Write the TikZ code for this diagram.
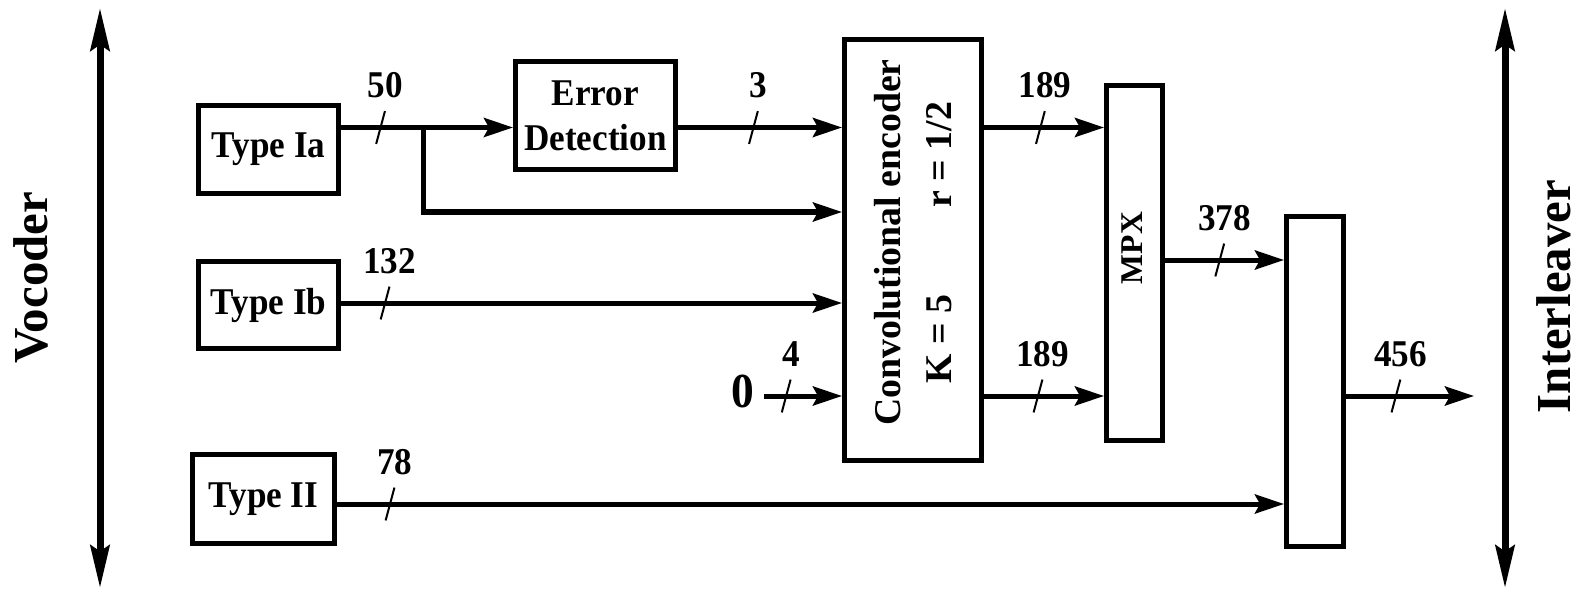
\documentclass[tikz,border=0pt]{standalone}
\usepackage{fontspec}
\setmainfont{Liberation Serif}[FakeStretch=0.93]
\newfontfamily\tallfont{Liberation Serif}
\usetikzlibrary{positioning,arrows.meta}

\begin{document}
\begin{tikzpicture}[
  block/.style={draw,line width=0.1cm,minimum width=2.8cm,minimum height=1.76cm,align=center,font=\fontsize{21.5}{25.5}\selectfont\bfseries},
  bar/.style={draw,line width=0.1cm,inner sep=0pt},
  flow/.style={line width=0.1cm,-{Stealth[length=0.58cm,width=0.38cm,inset=0.1cm]}},
  bigflow/.style={line width=0.14cm,{Stealth[length=0.85cm,width=0.38cm,inset=0.12cm]}-{Stealth[length=0.85cm,width=0.38cm,inset=0.12cm]}},
  busmark/.style={draw,line width=0.04cm,minimum width=0pt,minimum height=0.68cm,inner sep=0pt,rotate=-15},
  num/.style={inner sep=1pt,font=\fontsize{21.5}{25.5}\selectfont\bfseries},
  side/.style={rotate=90,inner sep=0pt,font=\tallfont\fontsize{27.8}{32}\selectfont\bfseries},
  upright/.style={rotate=90,inner sep=0pt,align=center,font=\tallfont\fontsize{21.5}{29}\selectfont\bfseries}
]
  \useasboundingbox (0,0) rectangle (31.62,11.8);
  \coordinate (r1) at (0,9.25);
  \coordinate (r2) at (0,7.56);
  \coordinate (r3) at (0,5.74);
  \coordinate (r4) at (0,3.88);
  \coordinate (r5) at (0,6.6);
  \coordinate (r6) at (0,1.72);
  \coordinate (vtop) at (2.0,11.64);
  \coordinate (vbot) at (2.0,0.04);
  \coordinate (itop) at (30.1,11.64);
  \coordinate (ibot) at (30.1,0.04);
  \coordinate (br) at (8.46,9.25);
  \coordinate (out) at (29.48,3.88);

  \node[side] (vocoder) at (0.62,6.24) {Vocoder};
  \node[side] (interleaver) at (31.08,5.87) {Interleaver};
  \node[block] (typeIa) at (5.37,8.81) {Type Ia};
  \node[block,minimum height=1.74cm] (typeIb) at (5.37,5.7) {Type Ib};
  \node[block,minimum width=2.84cm,minimum height=1.78cm] (typeII) at (5.27,1.82) {Type II};
  \node[block,minimum width=3.2cm,minimum height=2.16cm] (errdet) at (11.91,9.49) {Error\\Detection};
  \node[bar,minimum width=2.74cm,minimum height=8.42cm] (conv) at (18.26,6.8) {};
  \node[upright] (convtxt) at ([yshift=0.15cm]conv.center) {Convolutional encoder\\K = 5\hspace{2.3em}r = 1/2};
  \node[bar,minimum width=1.12cm,minimum height=7.1cm] (mpx) at (22.69,6.54) {};
  \node[upright,font=\tallfont\fontsize{18}{22}\selectfont\bfseries] (mpxtxt) at ([xshift=-0.04cm,yshift=0.3cm]mpx.center) {MPX};
  \node[bar,minimum width=1.14cm,minimum height=6.6cm] (il) at (26.3,4.17) {};
  \node[num,font=\fontsize{27.8}{32}\selectfont\bfseries] (zero) at (14.86,3.98) {0};

  \draw[bigflow] (vtop) -- (vbot);
  \draw[bigflow] (itop) -- (ibot);
  \draw[flow] (typeIa.east |- r1) -- node[busmark,pos=0.23] (t50) {} (errdet.west |- r1);
  \draw[flow] (br) |- (conv.west |- r2);
  \draw[flow] (errdet.east |- r1) -- node[busmark,pos=0.46] (t3) {} (conv.west |- r1);
  \draw[flow] (typeIb.east |- r3) -- node[busmark,pos=0.088] (t132) {} (conv.west |- r3);
  \draw[flow] ([xshift=0.16cm]zero.east |- r4) -- node[busmark,pos=0.28] (t4) {} (conv.west |- r4);
  \draw[flow] (conv.east |- r1) -- node[busmark,pos=0.47] (t189a) {} (mpx.west |- r1);
  \draw[flow] (conv.east |- r4) -- node[busmark,pos=0.45] (t189b) {} (mpx.west |- r4);
  \draw[flow] (mpx.east |- r5) -- node[busmark,pos=0.46] (t378) {} (il.west |- r5);
  \draw[flow] (typeII.east |- r6) -- node[busmark,pos=0.056] (t78) {} (il.west |- r6);
  \draw[flow] (il.east |- out) -- node[busmark,pos=0.39] (t456) {} (out);

  \node[num,above=0.2cm of t50] {50};
  \node[num,above=0.2cm of t3] {3};
  \node[num,above=0.2cm of t132] {132};
  \node[num,above=0.2cm of t4] {4};
  \node[num,above=0.2cm of t189a] {189};
  \node[num,above=0.2cm of t189b] {189};
  \node[num,above=0.2cm of t378] {378};
  \node[num,above=0.2cm of t78] {78};
  \node[num,above=0.2cm of t456] {456};
\end{tikzpicture}
\end{document}
